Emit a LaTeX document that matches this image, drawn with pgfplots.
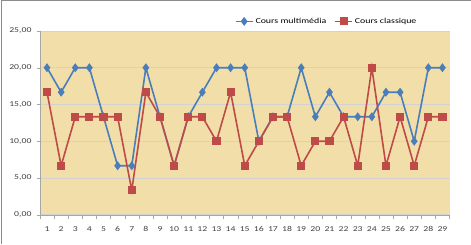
\documentclass[border=0pt]{standalone}
\usepackage{fontspec}
\setmainfont{Carlito}[FakeStretch=1.3]
\usepackage{pgfplots}
\pgfplotsset{compat=1.18}
\definecolor{cblue}{HTML}{4A7EBB}
\definecolor{cred}{HTML}{BE4B48}
\definecolor{papyrus}{HTML}{F2DEA8}
\begin{document}
\begin{tikzpicture}[x=1pt,y=1pt]
\path (-40,-29) rectangle (431,215);
\draw[gray!90, line width=1pt] (-38,-29) -- (-38,214.5) -- (431,214.5);
\begin{axis}[at={(0,0)}, anchor=south west, scale only axis,
  width=410pt, height=184pt,
  xmin=0.5, xmax=29.5, ymin=0, ymax=25,
  axis background/.style={fill=papyrus},
  axis x line*=bottom, axis y line*=left,
  axis line style={-, gray!70},
  xtick={1,...,29},
  minor xtick={0.5,1.5,...,29.5},
  major x tick style={draw=none},
  minor x tick style={gray!70},
  minor tick length=4pt,
  tick align=outside,
  ytick={0,5,...,25},
  major y tick style={gray!70},
  major tick length=3pt,
  ymajorgrids, grid style={gray!35, line width=0.6pt},
  /pgf/number format/assume math mode=true,
  yticklabel style={/pgf/number format/fixed, /pgf/number format/fixed zerofill,
    /pgf/number format/precision=2, /pgf/number format/use comma, xshift=-2pt},
  ticklabel style={font=\fontsize{7.5}{9}\selectfont, text=black!75},
  xticklabel style={yshift=-5pt},
  legend columns=2,
  legend style={at={(0.70,1.0)}, anchor=south, yshift=2pt, draw=none, fill=none,
    font=\fontsize{7.6}{9.5}\selectfont, /tikz/every even column/.append style={column sep=6pt}},
]
\addplot[cblue, line width=1.6pt, mark=diamond*, mark size=3.2pt, mark options={fill=cblue, draw=cblue}]
 coordinates {(1,20) (2,16.67) (3,20) (4,20) (5,13.33) (6,6.67) (7,6.67) (8,20) (9,13.33) (10,6.67)
 (11,13.33) (12,16.67) (13,20) (14,20) (15,20) (16,10) (17,13.33) (18,13.33) (19,20) (20,13.33)
 (21,16.67) (22,13.33) (23,13.33) (24,13.33) (25,16.67) (26,16.67) (27,10) (28,20) (29,20)};
\addlegendentry{Cours multimédia}
\addplot[cred, line width=1.6pt, mark=square*, mark size=3.3pt, mark options={fill=cred, draw=cred}]
 coordinates {(1,16.67) (2,6.67) (3,13.33) (4,13.33) (5,13.33) (6,13.33) (7,3.33) (8,16.67) (9,13.33) (10,6.67)
 (11,13.33) (12,13.33) (13,10) (14,16.67) (15,6.67) (16,10) (17,13.33) (18,13.33) (19,6.67) (20,10)
 (21,10) (22,13.33) (23,6.67) (24,20) (25,6.67) (26,13.33) (27,6.67) (28,13.33) (29,13.33)};
\addlegendentry{Cours classique}
\end{axis}
\end{tikzpicture}
\end{document}
